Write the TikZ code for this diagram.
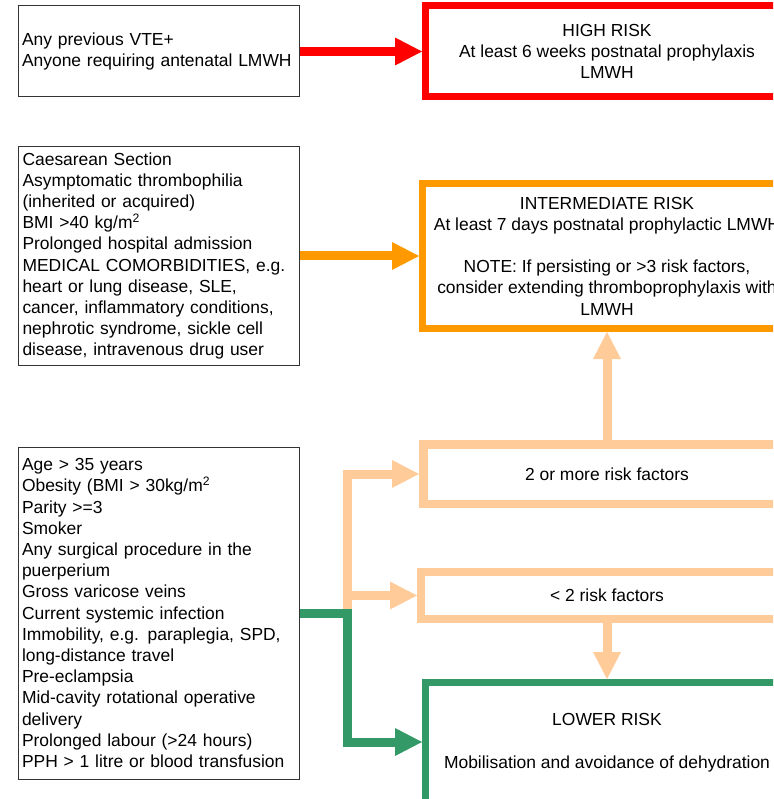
\documentclass[tikz,border=0pt]{standalone}
\usepackage{fontspec}
\setmainfont{Liberation Sans}
\usetikzlibrary{arrows.meta}
\definecolor{cred}{HTML}{FF0000}
\definecolor{corange}{HTML}{FF9900}
\definecolor{cpeach}{HTML}{FFCC99}
\definecolor{cgreen}{HTML}{339966}
\begin{document}
\begin{tikzpicture}[x=1pt,y=-1pt,
  txt/.style={font=\fontsize{17.45}{21.2}\selectfont},
  leftbox/.style={txt, draw=black!80, line width=1pt, text width=273pt, inner xsep=4pt, inner ysep=0pt, align=left, minimum width=281pt},
  riskbox/.style={txt, align=center, inner sep=0pt},
  fat/.style={line width=9pt, line join=miter, -{Triangle[length=27pt,width=28pt,line width=0pt]}}
]
\useasboundingbox (0,0) rectangle (773,799);
\clip (0,0) rectangle (773,799);

\node[leftbox, minimum height=91pt] (prev) at (158.5,51.5) {Any previous VTE+\\Anyone requiring antenatal LMWH};
\node[riskbox, draw=cred, line width=7pt, minimum width=363pt, minimum height=90.5pt] (high) at (607,51.25) {HIGH RISK\\At least 6 weeks postnatal prophylaxis\\LMWH};

\node[leftbox, minimum height=218pt] (mid) at (159,256) {Caesarean Section\\Asymptomatic thrombophilia\\(inherited or acquired)\\BMI >40 kg/m\textsuperscript{2}\\Prolonged hospital admission\\MEDICAL COMORBIDITIES, e.g.\\heart or lung disease, SLE,\\cancer, inflammatory conditions,\\nephrotic syndrome, sickle cell\\disease, intravenous drug user};
\node[riskbox, draw=corange, line width=7pt, minimum width=369pt, minimum height=145pt] (inter) at (607,256) {INTERMEDIATE RISK\\At least 7 days postnatal prophylactic LMWH\\[21.2pt]NOTE: If persisting or >3 risk factors,\\consider extending thromboprophylaxis with\\LMWH};

\node[leftbox, minimum height=332pt] (lowf) at (158.5,613) {Age > 35 years\\Obesity (BMI > 30kg/m\textsuperscript{2}\\Parity >=3\\Smoker\\Any surgical procedure in the\\puerperium\\Gross varicose veins\\Current systemic infection\\Immobility, e.g. paraplegia, SPD,\\long-distance travel\\Pre-eclampsia\\Mid-cavity rotational operative\\delivery\\Prolonged labour (>24 hours)\\PPH > 1 litre or blood transfusion};

\node[riskbox, draw=cpeach, line width=8.5pt, minimum width=367.5pt, minimum height=59.5pt] (two) at (607,474) {2 or more risk factors};
\node[riskbox, draw=cpeach, line width=8pt, minimum width=372pt, minimum height=47pt] (one) at (607,595.5) {< 2 risk factors};
\node[riskbox, draw=cgreen, line width=6.5pt, minimum width=363.5pt, minimum height=121.25pt] (low) at (607,742.9) {LOWER RISK\\[21.2pt]Mobilisation and avoidance of dehydration};

\draw[fat, cred] (prev.east) -- (prev.east -| high.west);
\draw[fat, corange] (mid.east) -- (inter.west);
\draw[fat, cpeach] (two.north) -- (inter.south);
\draw[fat, cpeach] (one.south) -- (low.north);

\coordinate (jn) at (347,613);
\coordinate (jg) at (347,742);
\draw[fat, cpeach] (jn) -- (jn |- two.west) -- (two.west);
\draw[fat, cpeach] (jn |- one.west) -- (one.west);
\draw[fat, cgreen] (lowf.east) -- (jn) -- (jg) -- (jg -| low.west);
\end{tikzpicture}
\end{document}
